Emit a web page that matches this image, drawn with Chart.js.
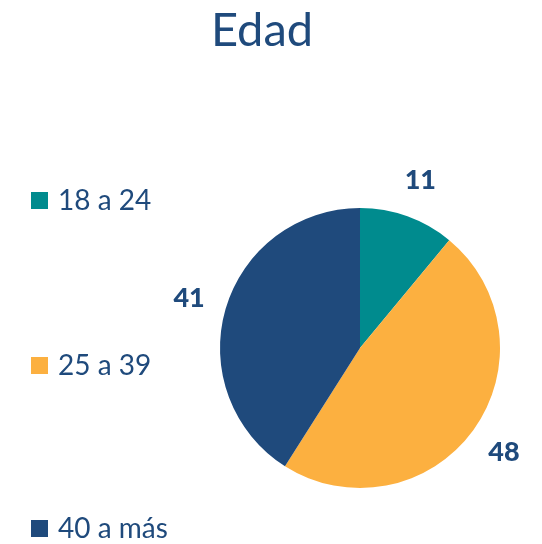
<!DOCTYPE html>
<html>
<head>
<meta charset="utf-8">
<script src="https://cdn.jsdelivr.net/npm/chart.js@4/dist/chart.umd.min.js"></script>
<style>
html,body{margin:0;padding:0;background:#fff;}
#wrap{position:relative;width:542px;height:544px;}
</style>
</head>
<body>
<div id="wrap"><canvas id="c" width="542" height="544"></canvas></div>
<script>
const title = "Edad";
const categories = ["18 a 24", "25 a 39", "40 a más"];
const values = [11, 48, 41];
const colors = ["#008B8E", "#FCB040", "#1F4A7C"];
const textColor = "#1F4A7C";
const legendY = [200, 365, 528];

const overlay = {
  id: 'overlay',
  afterDraw(chart) {
    const ctx = chart.ctx;
    ctx.save();
    // title
    ctx.fillStyle = textColor;
    ctx.font = '47px Lato';
    ctx.textAlign = 'center';
    ctx.textBaseline = 'middle';
    ctx.fillText(title, 262, 31);
    // legend
    ctx.font = '28px Lato';
    ctx.textAlign = 'left';
    chart.data.labels.forEach((lab, i) => {
      ctx.fillStyle = chart.data.datasets[0].backgroundColor[i];
      ctx.fillRect(31, legendY[i] - 8, 17, 17);
      ctx.fillStyle = textColor;
      ctx.fillText(lab, 58, legendY[i] + 1);
    });
    // data labels
    const meta = chart.getDatasetMeta(0);
    ctx.font = '900 27px Lato';
    ctx.textAlign = 'center';
    meta.data.forEach((arc, i) => {
      const p = arc.getProps(['x','y','startAngle','endAngle','outerRadius'], true);
      const mid = (p.startAngle + p.endAngle) / 2;
      const r = p.outerRadius + 38;
      ctx.fillStyle = textColor;
      ctx.fillText(String(chart.data.datasets[0].data[i]), p.x + Math.cos(mid) * r, p.y + Math.sin(mid) * r);
    });
    ctx.restore();
  }
};

new Chart(document.getElementById('c'), {
  type: 'pie',
  data: {
    labels: categories,
    datasets: [{
      data: values,
      backgroundColor: colors,
      borderWidth: 0
    }]
  },
  options: {
    responsive: false,
    animation: false,
    layout: { padding: { left: 220, right: 42, top: 208, bottom: 56 } },
    plugins: {
      legend: { display: false },
      title: { display: false },
      tooltip: { enabled: false }
    }
  },
  plugins: [overlay]
});
</script>
</body>
</html>
